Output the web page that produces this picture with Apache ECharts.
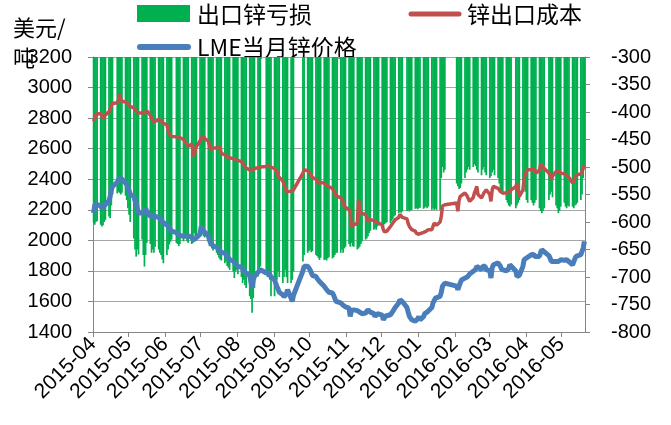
<!DOCTYPE html>
<html>
<head>
<meta charset="utf-8">
<script src="https://cdn.jsdelivr.net/npm/echarts@6/dist/echarts.min.js"></script>
<style>
html,body{margin:0;padding:0;background:#fff;}
#chart{width:671px;height:425px;}
</style>
</head>
<body>
<div id="chart"></div>
<script>
// Trading calendar: weekdays from firstDay to lastDay, minus exchange holidays
const firstDay = '2015-04-14';
const lastDay = '2016-06-02';
const holidays = ['2015-05-01','2015-06-22','2015-09-03','2015-09-04',
  '2015-10-01','2015-10-02','2015-10-05','2015-10-06','2015-10-07',
  '2016-01-01','2016-02-08','2016-02-09','2016-02-10','2016-02-11','2016-02-12',
  '2016-04-04','2016-05-02'];
// Month tick labels (ticks fall on the same day of month as the first date)
const tickLabels = ['2015-04','2015-05','2015-06','2015-07','2015-08','2015-09','2015-10',
  '2015-11','2015-12','2016-01','2016-02','2016-03','2016-04','2016-05'];

// 锌出口成本 (USD/t), one value per trading day, week by week
const exportCost = [
  2780,2800,2825,2833,
  2830,2815,2800,2810,2822,
  2840,2865,2880,2895,
  2900,2920,2953,2930,2910,
  2905,2899,2895,2880,2870,
  2866,2860,2850,2835,2833,
  2833,2830,2835,2845,2848,
  2820,2800,2790,2775,2780,
  2790,2792,2785,2775,2765,
  2757,2720,2691,2685,2680,
  2678,2676,2676,2670,
  2660,2648,2640,2630,2615,
  2630,2620,2550,2600,2615,
  2650,2670,2676,2680,2665,
  2650,2620,2593,2600,2604,
  2604,2610,2615,2600,2570,
  2560,2552,2545,2545,2540,
  2535,2530,2528,2525,2523,
  2515,2505,2495,2485,2473,
  2460,2451,2455,2462,2470,
  2475,2480,2480,
  2484,2486,2488,2484,2480,
  2470,2462,2450,2420,2408,
  2390,2365,2343,2320,2310,
  2321,2325,2330,
  2440,2462,
  2455,2445,2440,2425,2410,
  2400,2390,2375,2375,2378,
  2375,2370,2360,2353,2350,
  2340,2331,2310,2290,2288,
  2280,2277,2250,2222,2215,
  2201,2180,2091,2095,2102,
  2110,2266,2200,2179,2175,
  2168,2150,2124,2130,2135,
  2130,2124,2120,2115,2113,
  2100,2070,2055,2048,2060,
  2091,2100,2113,2125,2135,
  2150,2170,2179,2150,
  2140,2110,2091,2080,2070,
  2060,2045,2037,2040,2048,
  2052,2055,2059,2065,2070,
  2070,2080,2113,2105,2100,
  2120,2157,2225,2233,2233,
  2245,2190,2260,2288,2300,
  2310,2305,2288,2270,2255,
  2280,2310,2330,2353,2300,
  2277,2290,2310,2320,2331,
  2300,2255,2330,2353,2345,
  2340,2331,2320,2315,2310,
  2310,2310,2315,2320,2331,
  2350,2375,2320,2288,
  2330,2400,2440,2450,2462,
  2462,2468,2473,2460,2440,
  2460,2495,2490,2484,2470,
  2440,2420,2397,2420,
  2451,2462,2455,2445,2440,
  2435,2429,2425,2418,2410,
  2375,2390,2418,2425,2429,
  2435,2440,2470,2495
];

// LME当月锌价格 (USD/t)
const lmePrice = [
  2179,2233,2240,2233,
  2225,2211,2215,2225,2233,
  2260,2288,2330,2353,
  2380,2397,2405,2408,2395,
  2375,2365,2353,2340,2300,
  2288,2260,2244,2210,2179,
  2179,2175,2180,2211,2190,
  2157,2160,2157,2150,2157,
  2150,2140,2135,2125,2115,
  2102,2090,2080,2070,2060,
  2050,2037,2035,2030,
  2026,2028,2030,2037,2030,
  2020,2004,2000,2010,2015,
  2040,2091,2075,2060,2048,
  2030,2000,1982,1975,1965,
  1955,1950,1940,1930,1920,
  1917,1905,1895,1884,1875,
  1865,1852,1845,1838,1829,
  1825,1815,1800,1797,1785,
  1770,1764,1688,1740,1764,
  1790,1800,1808,
  1786,1797,1790,1780,1760,
  1742,1720,1699,1680,1660,
  1644,1630,1622,1650,1677,
  1620,1600,1640,
  1800,1830,
  1830,1820,1808,1790,1770,
  1764,1750,1742,1730,1720,
  1699,1690,1677,1670,1660,
  1655,1640,1620,1600,1590,
  1590,1580,1575,1568,1565,
  1557,1502,1540,1550,1545,
  1540,1535,1530,1524,1520,
  1524,1530,1546,1540,1530,
  1520,1502,1510,1520,1524,
  1510,1480,1490,1505,1513,
  1513,1520,1535,1546,1560,
  1590,1611,1605,1600,
  1560,1530,1502,1490,1480,
  1470,1475,1485,1500,1480,
  1500,1520,1524,1530,1535,
  1560,1590,1605,1622,1630,
  1633,1660,1699,1710,1720,
  1700,1677,1700,1720,1740,
  1753,1764,1760,1770,1780,
  1797,1786,1810,1830,1825,
  1808,1830,1841,1830,1808,
  1800,1753,1819,1840,1852,
  1852,1840,1830,1810,1797,
  1800,1808,1815,1840,1852,
  1800,1764,1753,1770,
  1830,1873,1880,1884,1890,
  1905,1917,1910,1895,1900,
  1895,1920,1939,1935,1925,
  1900,1884,1862,1860,
  1862,1865,1862,1870,1873,
  1870,1865,1873,1870,1860,
  1840,1830,1880,1895,1906,
  1906,1910,1950,1993
];

// 出口锌亏损 (USD/t, right axis)
const exportLoss = [
  -602,-605,-600,-598,
  -605,-608,-606,-600,-596,
  -590,-593,-570,-550,
  -548,-545,-547,-550,-547,
  -552,-560,-575,-587,-600,
  -630,-650,-663,-650,-659,
  -632,-660,-681,-660,-638,
  -640,-656,-650,-656,-645,
  -650,-656,-660,-668,-675,
  -660,-650,-641,-636,-632,
  -638,-640,-644,-640,
  -635,-630,-628,-635,-638,
  -640,-638,-620,-626,-630,
  -617,-612,-620,-626,-628,
  -630,-644,-640,-648,-652,
  -656,-660,-665,-668,-670,
  -675,-672,-680,-683,-687,
  -690,-702,-690,-687,-695,
  -700,-711,-705,-715,-720,
  -735,-740,-765,-738,-720,
  -699,-690,-681,
  -690,-700,-695,-705,-735,
  -735,-720,-705,-690,-700,
  -711,-700,-687,-700,-711,
  -711,-705,-690,
  -672,-660,
  -656,-653,-650,-655,-653,
  -660,-662,-665,-669,-665,
  -669,-668,-670,-666,-664,
  -666,-664,-660,-656,-656,
  -656,-650,-656,-648,-645,
  -640,-645,-638,-644,-645,
  -650,-648,-645,-640,-635,
  -632,-630,-626,-620,-616,
  -614,-612,-614,-608,-606,
  -608,-608,-604,-602,-600,
  -602,-598,-595,-590,-588,
  -584,-582,-583,-581,
  -580,-578,-581,-579,-578,
  -576,-575,-577,-575,-574,
  -576,-574,-572,-575,-572,
  -578,-575,-578,-576,-578,
  -578,-520,-500,-510,-505,
  -530,-535,-540,-538,-530,
  -520,-510,-505,-500,-505,
  -500,-495,-498,-505,-510,
  -515,-505,-500,-510,-515,
  -520,-517,-510,-505,-515,
  -520,-530,-540,-545,-550,
  -560,-565,-570,-572,-568,
  -575,-570,-565,-560,
  -540,-530,-545,-560,-565,
  -560,-565,-570,-565,-560,
  -575,-580,-584,-580,-575,
  -560,-550,-545,-555,
  -570,-575,-584,-580,-572,
  -565,-572,-575,-570,-572,
  -572,-575,-570,-568,-565,
  -560,-550,-520,-500
];

const DAY = 86400000;
function utc(s) { const p = s.split('-').map(Number); return Date.UTC(p[0], p[1] - 1, p[2] || 1); }
const t0 = utc(firstDay);
const holidaySet = new Set(holidays);
const tradingDays = [];
for (let t = t0; t <= utc(lastDay); t += DAY) {
  const d = new Date(t);
  const wd = d.getUTCDay();
  const iso = d.toISOString().slice(0, 10);
  if (wd !== 0 && wd !== 6 && !holidaySet.has(iso)) tradingDays.push(iso);
}
if (tradingDays.length !== exportCost.length || exportCost.length !== lmePrice.length || lmePrice.length !== exportLoss.length) {
  console.error('length mismatch', tradingDays.length, exportCost.length, lmePrice.length, exportLoss.length);
}
// each day occupies one slot on the axis; a point sits in the middle of its slot
const slot = s => (utc(s) - t0) / DAY + 0.5;
const axisDays = (utc(lastDay) - t0) / DAY + 1;
const day14 = tickLabels.map(l => (utc(l + '-14') - t0) / DAY);
const labelAt = {};
day14.forEach((v, i) => { labelAt[v] = tickLabels[i]; });

const pair = arr => tradingDays.map((d, i) => [slot(d), arr[i]]);

const AXIS = '#868686';
const NUM_FONT = '"Liberation Sans", Arial, sans-serif';
const CJK_FONT = '"Noto Sans CJK SC", "Noto Sans", sans-serif';

const chart = echarts.init(document.getElementById('chart'), null, { renderer: 'canvas' });
chart.setOption({
  animation: false,
  backgroundColor: '#fff',
  grid: { left: 93, right: 86, top: 57, bottom: 93, containLabel: false },
  xAxis: {
    type: 'value', min: 0, max: axisDays,
    axisLine: { show: true, onZero: false, lineStyle: { color: AXIS, width: 1 } },
    axisTick: { show: true, customValues: day14, length: 5, lineStyle: { color: AXIS } },
    axisLabel: {
      customValues: day14, rotate: 45, margin: 9,
      formatter: v => labelAt[Math.round(v)] || '',
      color: '#000', fontSize: 21, fontFamily: NUM_FONT
    },
    splitLine: { show: false }
  },
  yAxis: [
    {
      type: 'value', min: 1400, max: 3200, interval: 200, position: 'left',
      axisLine: { show: true, lineStyle: { color: AXIS } },
      axisTick: { show: true, length: 5, lineStyle: { color: AXIS } },
      axisLabel: { color: '#000', fontSize: 20, fontFamily: NUM_FONT, margin: 21, formatter: v => String(v) },
      splitLine: { show: true, lineStyle: { color: '#a6a6a6', width: 1 } }
    },
    {
      type: 'value', min: -800, max: -300, interval: 50, position: 'right',
      axisLine: { show: true, lineStyle: { color: AXIS } },
      axisTick: { show: true, length: 5, lineStyle: { color: AXIS } },
      axisLabel: { color: '#000', fontSize: 20, fontFamily: NUM_FONT, margin: 26, formatter: v => String(v) },
      splitLine: { show: false }
    }
  ],
  series: [
    {
      name: '出口锌亏损', type: 'bar', yAxisIndex: 1, data: pair(exportLoss),
      barWidth: 1.7, clip: true, itemStyle: { color: '#00b050' }
    },
    {
      name: '锌出口成本', type: 'line', yAxisIndex: 0, data: pair(exportCost),
      symbol: 'none', lineStyle: { color: '#c0504d', width: 3.5 }, itemStyle: { color: '#c0504d' }
    },
    {
      name: 'LME当月锌价格', type: 'line', yAxisIndex: 0, data: pair(lmePrice),
      symbol: 'none', lineStyle: { color: '#4a7ebb', width: 5 }, itemStyle: { color: '#4a7ebb' }
    }
  ],
  graphic: [
    { type: 'rect', shape: { x: 137, y: 5, width: 53, height: 17 }, style: { fill: '#00b050' } },
    { type: 'text', x: 197, y: 14, style: { text: '出口锌亏损', font: '23px ' + CJK_FONT, fill: '#000', verticalAlign: 'middle' } },
    { type: 'line', shape: { x1: 411, y1: 14, x2: 459, y2: 14 }, style: { stroke: '#c0504d', lineWidth: 5, lineCap: 'round' } },
    { type: 'text', x: 467, y: 14, style: { text: '锌出口成本', font: '23px ' + CJK_FONT, fill: '#000', verticalAlign: 'middle' } },
    { type: 'line', shape: { x1: 140, y1: 47, x2: 188, y2: 47 }, style: { stroke: '#4a7ebb', lineWidth: 6, lineCap: 'round' } },
    { type: 'text', x: 197, y: 47, style: { text: 'LME当月锌价格', font: '23px ' + CJK_FONT, fill: '#000', verticalAlign: 'middle' } },
    { type: 'text', x: 13, y: 28, style: { text: '美元/', font: '22px ' + CJK_FONT, fill: '#000', verticalAlign: 'middle' } },
    { type: 'text', x: 13, y: 58, style: { text: '吨', font: '22px ' + CJK_FONT, fill: '#000', verticalAlign: 'middle' } }
  ]
});
</script>
</body>
</html>
